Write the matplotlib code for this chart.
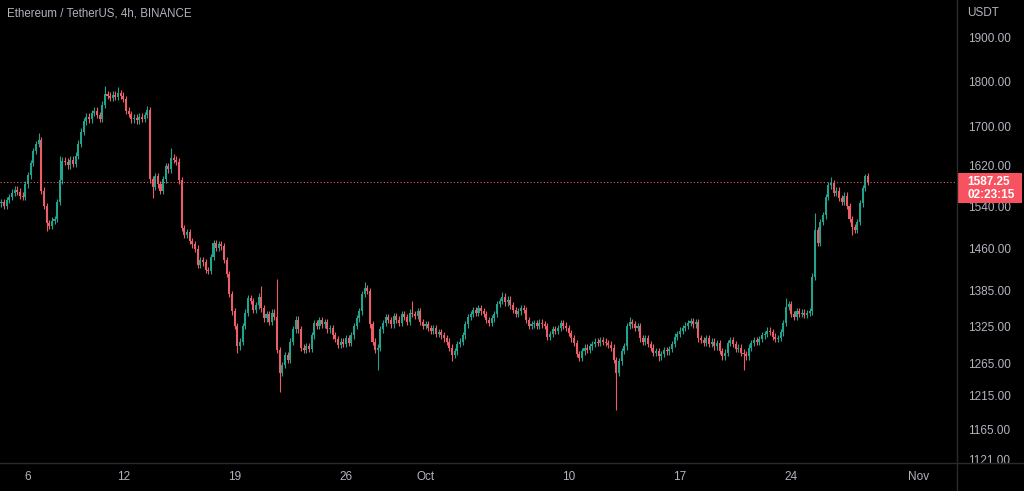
"""ETH/USDT 4h candles, TradingView dark style -> out.png"""
from datetime import datetime, timedelta

import matplotlib
matplotlib.use("Agg")
import matplotlib.pyplot as plt
import matplotlib.dates as mdates
from matplotlib.lines import Line2D
from matplotlib.patches import Rectangle
from matplotlib.ticker import FixedLocator, FixedFormatter, NullLocator

title = "Ethereum / TetherUS, 4h, BINANCE"
first_bar = datetime(2022, 9, 4, 8, 0)
bar_hours = 4
first_open = 1545

# 4h closes, one row per day
closes = [
    1548, 1540, 1552, 1558, 1566, 1572,
    1568, 1560, 1558, 1582, 1600, 1625,
    1650, 1664, 1672, 1570, 1540, 1508,
    1502, 1512, 1515, 1548, 1590, 1630,
    1628, 1620, 1632, 1624, 1640, 1665,
    1690, 1712, 1722, 1716, 1730, 1735,
    1725, 1718, 1748, 1772, 1768, 1762,
    1770, 1765, 1774, 1768, 1760, 1735,
    1728, 1716, 1720, 1714, 1722, 1718,
    1725, 1736, 1592, 1578, 1598, 1582,
    1570, 1592, 1618, 1612, 1636, 1632,
    1628, 1590, 1498, 1485, 1490, 1474,
    1468, 1460, 1430, 1440, 1435, 1422,
    1420, 1445, 1470, 1462, 1468, 1464,
    1440, 1415, 1380, 1350, 1325, 1292,
    1300, 1325, 1348, 1372, 1368, 1352,
    1360, 1375, 1355, 1338, 1345, 1332,
    1348, 1340, 1286, 1250, 1262, 1278,
    1270, 1300, 1320, 1336, 1320, 1290,
    1286, 1292, 1288, 1310, 1330, 1326,
    1335, 1328, 1332, 1320, 1322, 1310,
    1304, 1295, 1300, 1296, 1305, 1298,
    1310, 1325, 1338, 1350, 1380, 1390,
    1385, 1328, 1300, 1286, 1290, 1320,
    1330, 1340, 1335, 1328, 1342, 1336,
    1330, 1345, 1340, 1332, 1348, 1345,
    1342, 1350, 1332, 1325, 1328, 1322,
    1318, 1322, 1312, 1316, 1310, 1305,
    1300, 1290, 1278, 1284, 1296, 1300,
    1310, 1328, 1340, 1346, 1352, 1348,
    1355, 1350, 1345, 1335, 1330, 1338,
    1345, 1362, 1368, 1375, 1365, 1370,
    1360, 1352, 1346, 1350, 1356, 1352,
    1335, 1325, 1328, 1330, 1326, 1331,
    1328, 1325, 1308, 1312, 1320, 1318,
    1322, 1330, 1326, 1322, 1314, 1305,
    1298, 1280, 1274, 1284, 1290, 1286,
    1292, 1296, 1300, 1298, 1302, 1300,
    1298, 1295, 1290, 1270, 1250, 1268,
    1285, 1292, 1325, 1332, 1328, 1322,
    1325, 1305, 1300, 1306, 1296, 1290,
    1282, 1285, 1276, 1280, 1286, 1284,
    1288, 1296, 1308, 1312, 1318, 1322,
    1326, 1330, 1334, 1328, 1332, 1305,
    1302, 1298, 1305, 1296, 1300, 1292,
    1298, 1285, 1276, 1282, 1298, 1302,
    1296, 1288, 1290, 1282, 1280, 1276,
    1290, 1298, 1302, 1300, 1304, 1310,
    1312, 1318, 1316, 1308, 1304, 1306,
    1315, 1330, 1358, 1362, 1345, 1340,
    1350, 1346, 1348, 1344, 1347, 1350,
    1410, 1495, 1470, 1510, 1522, 1558,
    1580, 1585, 1565, 1570, 1555, 1548,
    1560, 1540, 1515, 1500, 1495, 1510,
    1545, 1575, 1598, 1587.25,
]

# long wicks that stand out on the chart (bar index -> price)
wick_highs = {14: 1687, 22: 1640, 39: 1790, 44: 1786, 55: 1745, 64: 1655,
              98: 1393, 104: 1406, 137: 1400, 155: 1367, 189: 1383,
              237: 1340, 296: 1372, 307: 1526, 313: 1596, 326: 1603}
wick_lows = {17: 1492, 57: 1556, 89: 1282, 105: 1220, 142: 1255, 170: 1268,
             232: 1193, 248: 1268, 280: 1255, 321: 1485}
wick_pad = 0.004

last_price = 1587.25
countdown = "02:23:15"

price_ticks = [1121, 1165, 1215, 1265, 1325, 1385, 1460, 1540, 1620, 1700, 1800, 1900]
date_ticks = [datetime(2022, 9, 6), datetime(2022, 9, 12), datetime(2022, 9, 19),
              datetime(2022, 9, 26), datetime(2022, 10, 1), datetime(2022, 10, 10),
              datetime(2022, 10, 17), datetime(2022, 10, 24), datetime(2022, 11, 1)]
date_labels = ["6", "12", "19", "26", "Oct", "10", "17", "24", "Nov"]

UP, DOWN = "#22a38e", "#ec5d68"
BG, SEP, TXT = "#000000", "#2a2a2a", "#b2b5be"
W, H = 1024, 491
PLOT_R, PLOT_B = 957, 463  # pixel edges of the price pane

plt.rcParams["font.family"] = ["Liberation Sans", "DejaVu Sans"]

fig = plt.figure(figsize=(W / 100, H / 100), dpi=100, facecolor=BG)
ax = fig.add_axes([0, 1 - PLOT_B / H, PLOT_R / W, PLOT_B / H])
ax.set_facecolor(BG)

times = [first_bar + timedelta(hours=bar_hours * i) for i in range(len(closes))]
t = mdates.date2num(times)
opens = [first_open] + closes[:-1]
for i, (x, o, c) in enumerate(zip(t, opens, closes)):
    col = UP if c >= o else DOWN
    hi = wick_highs.get(i, max(o, c) * (1 + wick_pad))
    lo = wick_lows.get(i, min(o, c) * (1 - wick_pad))
    ax.vlines(x, lo, hi, color=col, lw=0.8)
    ax.bar(x, abs(c - o) or 0.5, bottom=min(o, c), width=0.13, color=col, lw=0)

ax.axhline(last_price, color=DOWN, lw=0.8, ls=(0, (1, 2)))

# axis limits mapped to the reference's pixel grid (log price, 15.9 px / day)
ax.set_yscale("log")
ax.set_ylim(1116.8, 1992.4)
sep6 = mdates.date2num(datetime(2022, 9, 6))
ax.set_xlim(sep6 - 28 / 15.9, sep6 + (PLOT_R - 28) / 15.9)

ax.yaxis.tick_right()
ax.yaxis.set_major_locator(FixedLocator(price_ticks))
ax.yaxis.set_major_formatter(FixedFormatter([f"{p:.2f}" for p in price_ticks]))
ax.yaxis.set_minor_locator(NullLocator())
ax.xaxis.set_major_locator(FixedLocator(mdates.date2num(date_ticks)))
ax.xaxis.set_major_formatter(FixedFormatter(date_labels))
ax.tick_params(axis="y", length=0, pad=7.6, labelsize=8.5, labelcolor=TXT)
ax.tick_params(axis="x", length=0, pad=5.5, labelsize=8.5, labelcolor=TXT)
for s in ax.spines.values():
    s.set_visible(False)

# pane separators
fig.add_artist(Line2D([0, 1], [1 - PLOT_B / H] * 2, color=SEP, lw=1))
fig.add_artist(Line2D([PLOT_R / W] * 2, [0, 1], color=SEP, lw=1))

fig.text(7 / W, 1 - 13 / H, title, color=TXT, fontsize=8.3, va="center", ha="left")
fig.text(967 / W, 1 - 13 / H, "USDT", color=TXT, fontsize=8.5, va="center", ha="left")

# last price tag
fig.add_artist(Rectangle((PLOT_R / W, 1 - 203 / H), 65 / W, 30 / H,
                         transform=fig.transFigure, color="#f7525f", lw=0))
fig.text(967 / W, 1 - 182 / H, f"{last_price:.2f}", color="white", fontsize=8.5,
         fontweight="bold", va="center", ha="left")
fig.text(967 / W, 1 - 195 / H, countdown, color="white", fontsize=8.5,
         fontweight="bold", va="center", ha="left")

fig.savefig("out.png", dpi=100, facecolor=BG)
